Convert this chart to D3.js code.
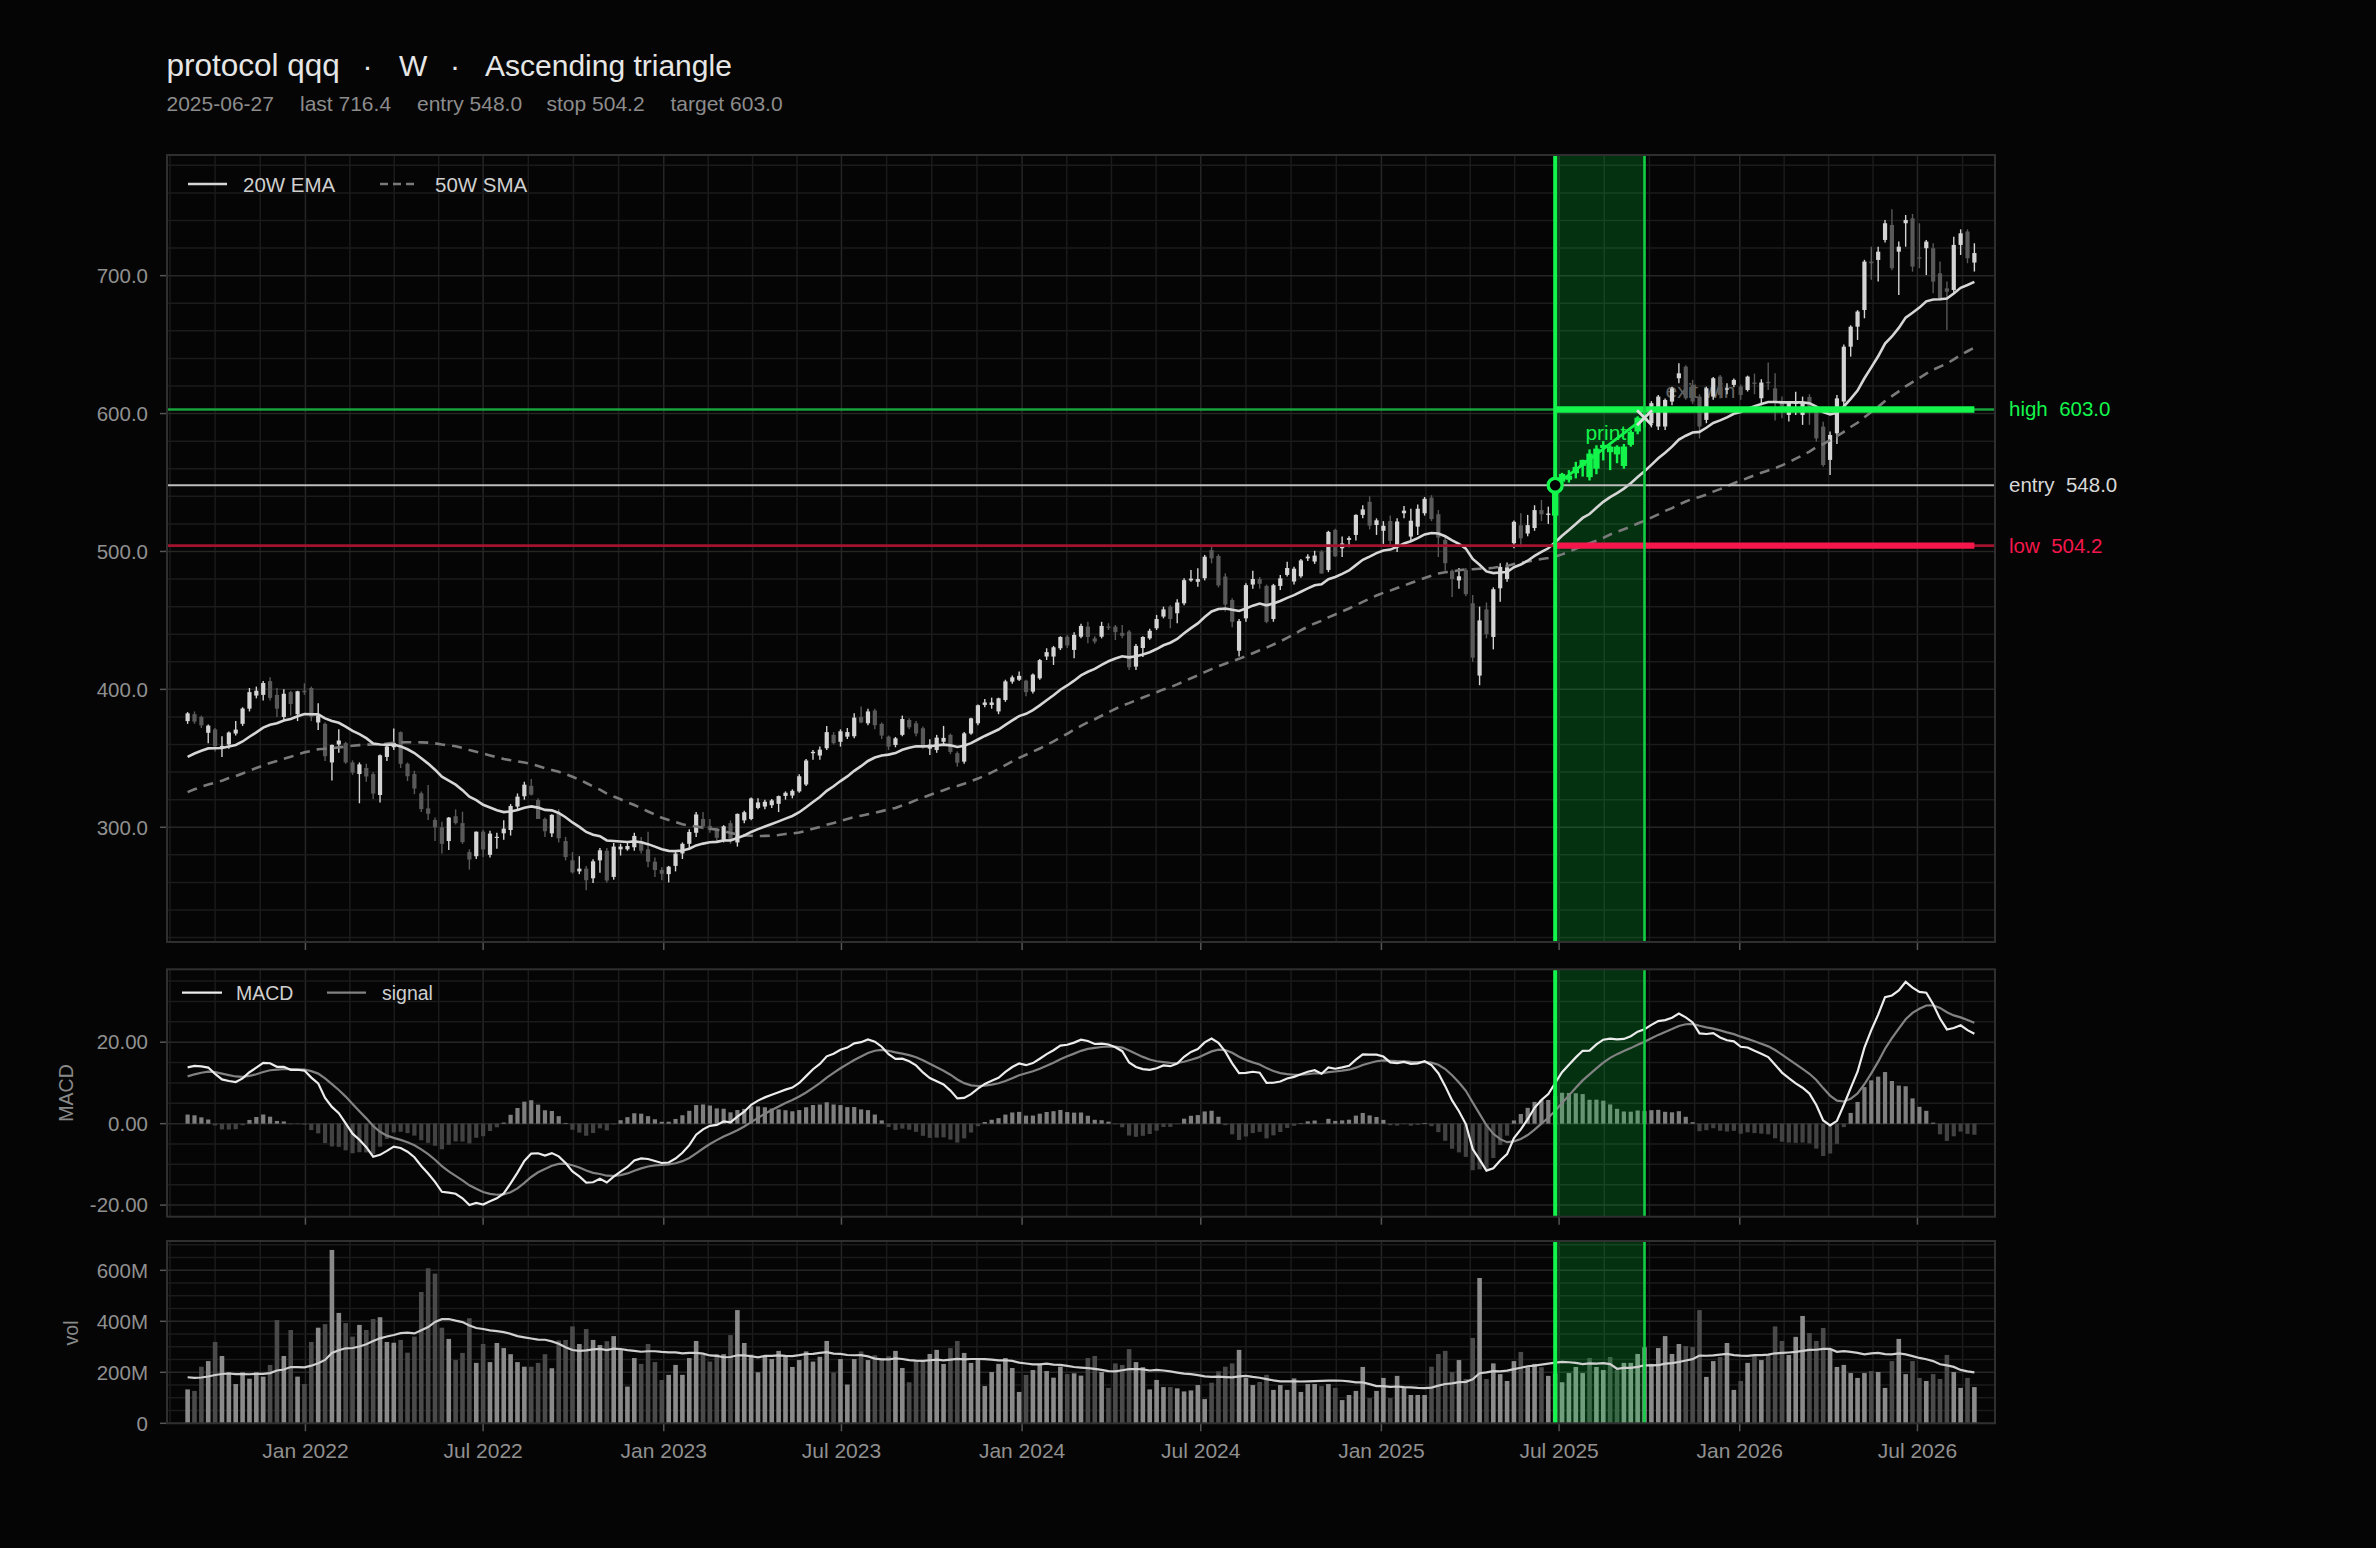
<!DOCTYPE html>
<html><head><meta charset="utf-8">
<script src="https://cdn.jsdelivr.net/npm/d3@7"></script>
<style>html,body{margin:0;padding:0;background:#050505}svg{display:block}</style>
</head><body>
<svg id="c" width="2376" height="1548"></svg>
<script>
// ---------------- DATA ----------------
const symbol = "protocol qqq", timeframe = "W", pattern = "Ascending triangle";
const firstWeek = "2021-09-03";          // week-ending date of the first bar
const entryDate = "2025-06-27", exitDate = "2025-09-26";
const entryPrice = 548.0, stopPrice = 504.2, targetPrice = 603.0, exitPrice = 597.0, lastPrice = 716.4;

const open = [377,382,380,368.5,371,357,360,368,375,386,
395.5,396,406,396,380,398,382,399,401,376,
375,347,360,361,347,338.6,343,338.6,323.4,351,
358,369,346,338.6,324.6,313.7,305.3,300,290,308,
303,282,279,296.8,280,293,295.6,298,315,322.5,
330,319.8,306,295.6,310,290,276,268,270,263,
276,283,264,284,284,285.5,290,284,275,269,
266,272,281,288,296,306,301,298,291,303,
289,305,306,314,315,316,317,322.7,323,326,
331,353.7,352,357.3,367,362,365.7,366,380,375.4,
384.6,375,365.7,359.7,367,377.8,375.4,371.8,357,356,
362,367,353.7,347.6,368,375.4,388.7,388.7,384,392.3,
405.6,407,406.3,398.4,408,423.8,423.8,429.8,438.2,428.6,
438.2,445.5,437,438.2,445.5,445.5,441,441.9,416.5,430,
437,444.3,452.8,460,455.2,462.4,479,478,480.6,501,
496.7,481.8,464.8,428,451.5,476,480,475,451,475,
483,478.2,482,495,492.7,499.9,486.6,515.6,502.3,508.4,
512,526.5,536,519.2,515,522,504,527.7,510.8,518,
527.7,539,527,508.4,486,479,486.6,462.4,410,458,
438,473.3,480,506,519,513,517,530,526.5,526,
550.6,552,556.7,562,571,560,575,576,576,562,
577.3,587,596,593,590.6,590.6,608.7,625.6,634,620.8,
612.3,595.4,612.3,626.8,617.5,620.8,619.6,617.1,622.5,611.1,
623,618.3,608.7,599,607,599,612,605,590.5,566.4,
585.7,608.7,648.5,663,675.1,710.2,711.4,725.9,736.8,717.4,
738,741.6,713.3,719.9,719.9,701.7,690.8,689.6,722.3,732,
709.5];
const high = [383.5,384,381,374.5,372,366,369.5,377,387,401,
402,406,408.7,401,400,399,399,404.4,402,390,
376,360,371,362,348.5,347,346,340,352.7,361,
371.7,369.5,347,341,326,330.6,307,304,307.5,313,
311.3,284,297,298,297.5,296,305,316.8,324.5,333,
335,321,307,309.5,313,293,282,279,272,276.8,
285,285,288.6,288,290,296,293,296.8,278,271,
272,282,289,298.5,311,311,306,299.5,301.5,305,
310,312,321.5,321,320,320.5,323,326,327.5,338.5,
349.5,356,358.5,373.5,369,371,372,382.7,387.5,386,
386,376,366.5,365.5,381,379,377,373,363.8,367,
373.5,368,355,369,379.5,389,393,394,394,407,
410,412.9,407,411.5,422,429.8,431.5,438.5,439.5,441.5,
447.5,449,438.5,449,448,446.7,446.7,443,432.9,438.5,
444,454,460,461,465.3,480.5,486.6,487.8,497.5,503.5,
498,484.2,466,451,477,486,481.5,476,476.5,483,
492.5,489,494.5,498,500.5,501,515,516.5,510.8,511,
527,533.6,540,524,522,526,524,533,531,534,
539.5,540.8,530,512,487,488,488,468.5,460,463,
474,491.5,492,522.5,527.7,526.5,533.5,537.4,532.5,549,
557,559,565,566.5,574,577,580,577,577,578,
588,598,601,609,613.5,611,619.5,636.5,635,624.4,
614,619.5,626.5,628,622,625.5,621,627.5,629,624.9,
637,629.2,612.3,608.7,615.9,612.3,614,605.5,594,587,
613.5,650,664,675,711.5,721,721,740.4,748.1,724.7,
744,744.7,738,725.9,723.5,710.2,695.7,728.3,733.6,733.6,
723.5];
const low = [375,375,372,361,355,351,357,366.5,373.5,384,
393.5,392,392,380,378,381,377,396,377,370.5,
348,334,354,346,338,317.4,333,320.5,318,348,
356,343,333.5,324,311,305.3,290,281,283.5,302,
288,269.3,277,278.5,278,284.5,291,294,312,320,
323,306,293,293,289,276,266.5,266,254.3,259.5,
267,260,262,279.5,283,283,281,271,264,261.5,
260,268,277,285,293,298.5,296,289.5,289,288,
286,303,305,313,313,314,311,320,321,325,
330,349,349,356,360,358.5,364,364.5,375.4,374,
371,364,356,358,366,371,366,357,352.4,354,
360,353,344,346,367,374,387,386,382,391,
404,406,395,397,407,421.3,417.7,428.5,430,422.5,
437,433.4,433,437,443,435.8,437,414,414,423.5,
436,443,451.5,444.3,447.9,461,478,474.5,479,491.4,
474,456.4,445,423.8,449.1,473,473,448,449,472,
481.8,476,481,493,491,484,485,496,496,503,
508,524,516,512,505.5,505,499.7,524,507,512,
526,522,496,486,467,473,467.5,420,403,437,
429,463.6,478,502.3,503,511,515,522,520,523.5,
549,550,553,554.3,551.5,556,566,559,564,560,
576,585,590,590,588,588,606,622,610,607,
582,593,610,611,614,619,610,616,614,606,
617,595,596.6,594.2,599,591.8,591.8,579.7,561.5,555.5,
578,606,641.3,653.4,669.1,697,695.7,724,704,686,
721,702.9,705.4,700.5,687.2,682,660.6,687.2,715,709,
703];
const close = [382.6,376.6,373.9,373.7,358.7,359,368.7,370.8,386.1,398,
399,404.6,393.8,386,396.8,389.4,398.6,397.9,380.2,381,
351.5,359.7,362.9,347,339.6,345.6,336.8,324.4,352.2,358.6,
361.2,346,337,328.1,313.2,309.8,300,288,307,303,
289.2,276.6,296.8,283.9,295.4,293.1,299,315.4,322.2,330.9,
323.6,306,297.1,309,292,278.4,267.3,270,261.6,275.3,
283.3,261.4,286,286,286.4,293.7,283,275,269,266.3,
271.4,280.9,288,296.6,309.3,300.6,298,292.4,300.7,290,
309.7,310.9,320.9,318,318.5,319.5,322.6,325,326.4,337,
348.4,354.7,356.3,369,361,369.6,369,379.5,376,384,
374,366.5,358.5,364.5,378.5,372.5,368,358.6,360,365,
364.8,354.6,346.8,368.1,379,388.5,390.5,390.5,393.5,405.8,
408.7,409.8,398,410.7,421.2,427,430.5,438,431.8,439.5,
446,438,434.6,446,445,441.5,438.8,416,431.5,438,
442.5,451,458,451,463,479.2,480.3,480,496.2,495,
475.4,461.5,449,449.5,475.6,480,476.5,449,475.5,480.5,
488,487.5,493.5,496.3,497,484,514.2,496.5,505.8,509.7,
526.5,530.5,518.7,522.6,518.6,507.7,521.7,529.6,522.3,531,
538.2,523.5,510,491.5,480,482,469,423,450,440,
472.6,488.8,488.5,521.5,509.5,519.1,530,527,527.5,548.1,
556.2,555,561.3,566.4,553.9,574.6,577.3,572,570.4,576.1,
586.7,597,597,607.5,612.3,609.9,618.3,629.2,611.1,608.7,
590.6,618.3,625.6,613.5,618.2,624.4,613.5,626.8,621.5,622.5,
622,608.7,605,608.5,608,608,602,582,562.7,584.5,
611,648.5,663,674,710.2,709,717.4,738,705.4,721,
740.4,706.6,712.4,724.7,695.7,683.6,688.4,722.3,730.7,712.6,
716.4];
// weekly volume, millions of shares
const volume = [133,127,222,244,319,264,200,154,200,175,
200,183,229,405,264,366,183,154,319,375,
389,680,433,393,340,386,366,409,416,319,
316,327,277,340,515,608,587,375,331,248,
276,412,237,311,240,315,295,271,240,222,
222,237,271,216,325,327,380,311,370,327,
307,322,342,290,144,256,233,311,240,170,
190,229,190,256,323,268,242,272,271,346,
444,315,269,200,263,252,284,261,221,248,
282,242,261,323,199,252,152,252,282,248,
267,255,263,284,217,161,244,244,272,288,
233,295,323,276,237,252,146,201,233,256,
217,123,190,209,229,205,179,222,193,196,
187,256,264,201,139,235,229,291,240,220,
133,170,142,142,137,125,129,150,95,159,
204,222,235,288,178,150,162,190,131,150,
131,176,123,154,154,146,154,139,91,111,
127,221,99,127,178,99,186,139,111,111,
111,222,272,284,201,248,174,335,570,174,
235,193,166,244,280,220,233,220,186,195,
161,197,221,197,256,221,209,260,209,237,
237,272,298,233,295,342,272,311,303,299,
444,182,244,260,315,131,166,237,264,248,
268,380,323,268,339,421,354,323,374,291,
221,229,197,178,197,205,201,139,244,331,
193,244,178,166,193,174,268,201,139,178,
142];
// weekly history before the first drawn bar (warm-up of the moving averages)
const priorCloses = [275,284,292,291,287,274,298,291,297,304,307,306,314,316,318,321,316,329,319,334,
338,334,320,309,324,318,319,333,342,334,331,333,327,319,319,327,330,336,338,348,354,356,352,362,359,362,364,361,371];
const priorVolumes = [176,192,168,201,187,159,210,181,195,172,188,165,199,183,177,190,171,186,180];

const xTickDates = ["2022-01-01","2022-07-01","2023-01-01","2023-07-01","2024-01-01","2024-07-01","2025-01-01","2025-07-01","2026-01-01","2026-07-01"];
const priceTicks = [300,400,500,600,700];
const macdTicks = [-20,0,20];
const volTicks = [0,200,400,600];

// ---------------- LAYOUT ----------------
const W = 2376, H = 1548, L = 167, R = 1995;
const PP = {top:155, bot:942}, PM = {top:969.3, bot:1216.7}, PV = {top:1241, bot:1423.3};
const FONT = "Liberation Sans, Arial, Helvetica, sans-serif";
const C = {
  bg:"#050505", grid:"#1b1b1b", gridMaj:"#262626", border:"#2f2f2f", tick:"#555",
  text:"#e6e6e6", sub:"#8c8c8c", axis:"#909090",
  up:"#d4d4d4", down:"#595959", vUp:"#8a8a8a", vDown:"#4a4a4a", hUp:"#7e7e7e", hDown:"#424242",
  green:"#14f54c", greenDim:"#17a23c", greenR:"#14cf45", red:"#f5174b", redDim:"#a3132f"
};

const svg = d3.select("#c");
svg.append("rect").attr("width",W).attr("height",H).attr("fill",C.bg);

const parse = d3.utcParse("%Y-%m-%d");
const t0 = parse(firstWeek);
const n = close.length;
const dates = d3.range(n).map(i => d3.utcDay.offset(t0, 7*i));
const iEntry = dates.findIndex(d => +d === +parse(entryDate));
const iExit = dates.findIndex(d => +d === +parse(exitDate));

const x = d3.scaleUtc()
  .domain([d3.utcDay.offset(dates[0],-21), d3.utcDay.offset(dates[n-1],21)])
  .range([L, R]);
const yP = d3.scaleLinear().domain([216.8, 787.5]).range([PP.bot, PP.top]);
const yM = d3.scaleLinear().domain([-22.85, 37.9]).range([PM.bot, PM.top]);
const yV = d3.scaleLinear().domain([0, 715]).range([PV.bot, PV.top]);

// ---------------- INDICATORS ----------------
function ema(arr, span){ const a = 2/(span+1); let e; return arr.map((v,i)=> (e = i===0 ? v : a*v + (1-a)*e)); }
function sma(arr, w){ return arr.map((v,i)=> i < w-1 ? null : d3.mean(arr.slice(i-w+1, i+1))); }
const allC = priorCloses.concat(close), off = priorCloses.length;
const ema20 = ema(allC,20).slice(off);
const sma50 = sma(allC,50).slice(off);
const e12 = ema(allC,12), e26 = ema(allC,26);
const macdAll = e12.map((v,i)=> v - e26[i]);
const sigAll = ema(macdAll, 9);
const macd = macdAll.slice(off), signal = sigAll.slice(off);
const hist = macd.map((v,i)=> v - signal[i]);
const allV = priorVolumes.concat(volume);
const volMA = sma(allV,20).slice(priorVolumes.length);

// ---------------- GRID / AXES ----------------
const halfYears = d3.utcMonth.every(6).range(parse("2021-07-01"), parse("2027-01-02"));
const vgrid = [];
for (let k=0;k<halfYears.length-1;k++){
  const a=+halfYears[k], b=+halfYears[k+1];
  for (let j=0;j<4;j++) vgrid.push({t:new Date(a+(b-a)*j/4), major:j===0});
}
const vg = vgrid.filter(g => x(g.t) > L+1 && x(g.t) < R-1);
const xt = xTickDates.map(parse);

function panel(P, y, minorVals, majorVals){
  const g = svg.append("g");
  g.selectAll(".vg").data(vg).join("line")
    .attr("x1",d=>x(d.t)).attr("x2",d=>x(d.t)).attr("y1",P.top).attr("y2",P.bot)
    .attr("stroke",d=>d.major?C.gridMaj:C.grid).attr("stroke-width",1.5);
  g.selectAll(".hg").data(minorVals).join("line")
    .attr("x1",L).attr("x2",R).attr("y1",d=>y(d)).attr("y2",d=>y(d))
    .attr("stroke",d=>majorVals.includes(d)?C.gridMaj:C.grid).attr("stroke-width",1.5);
  g.selectAll(".xt").data(xt).join("line")
    .attr("x1",d=>x(d)).attr("x2",d=>x(d)).attr("y1",P.bot).attr("y2",P.bot+8)
    .attr("stroke",C.tick).attr("stroke-width",1.5);
  g.selectAll(".yt").data(majorVals).join("line")
    .attr("x1",L-7).attr("x2",L).attr("y1",d=>y(d)).attr("y2",d=>y(d))
    .attr("stroke",C.tick).attr("stroke-width",1.5);
  return g;
}
function clip(id, P){
  svg.append("clipPath").attr("id",id).append("rect")
    .attr("x",L).attr("y",P.top).attr("width",R-L).attr("height",P.bot-P.top);
  return svg.append("g").attr("clip-path",`url(#${id})`);
}
function yLabels(P, y, vals, fmt){
  svg.append("g").selectAll("text").data(vals).join("text")
    .attr("x",L-19).attr("y",d=>y(d)+7.3).attr("text-anchor","end")
    .attr("font-family",FONT).attr("font-size",20.5).attr("fill",C.axis).text(fmt);
}
function shade(g, P){
  g.append("rect").attr("x",x(dates[iEntry])).attr("y",P.top)
    .attr("width",x(dates[iExit])-x(dates[iEntry])).attr("height",P.bot-P.top)
    .attr("fill","#00ff46").attr("fill-opacity",0.18);
}
function vlines(g, P){
  g.append("line").attr("x1",x(dates[iExit])).attr("x2",x(dates[iExit])).attr("y1",P.top).attr("y2",P.bot)
    .attr("stroke",C.greenR).attr("stroke-width",2.6);
  g.append("line").attr("x1",x(dates[iEntry])).attr("x2",x(dates[iEntry])).attr("y1",P.top).attr("y2",P.bot)
    .attr("stroke",C.green).attr("stroke-width",4);
}
function border(P){
  svg.append("rect").attr("x",L).attr("y",P.top).attr("width",R-L).attr("height",P.bot-P.top)
    .attr("fill","none").attr("stroke",C.border).attr("stroke-width",2);
}

const idx = d3.range(n);
const inTrade = i => i >= iEntry && i <= iExit;
const isUp = i => close[i] >= open[i];

// ---------------- PRICE PANEL ----------------
panel(PP, yP, d3.range(220, 788, 20), priceTicks);
yLabels(PP, yP, priceTicks, d => d.toFixed(1));
const gp = clip("cp", PP);
shade(gp, PP);
const ex = x(dates[iExit]), eyy = yP(exitPrice), nx = x(dates[iEntry]), ny = yP(entryPrice);
gp.append("text").attr("x",ex+21).attr("y",eyy-20).attr("font-family",FONT).attr("font-size",21)
  .attr("fill","#626262").text("exit win");
const cg = gp.append("g");
const order = idx.filter(i=>!inTrade(i)).concat(idx.filter(inTrade));
order.forEach(i => {
  const tr = inTrade(i);
  const col = tr ? C.green : (isUp(i) ? C.up : C.down);
  const bw = tr ? 6.4 : 4.2, ww = tr ? 2.4 : 1.4;
  const xi = x(dates[i]);
  cg.append("line").attr("x1",xi).attr("x2",xi)
    .attr("y1",yP(Math.max(high[i],open[i],close[i]))).attr("y2",yP(Math.min(low[i],open[i],close[i])))
    .attr("stroke",col).attr("stroke-width",ww);
  const yt = yP(Math.max(open[i],close[i])), yb = yP(Math.min(open[i],close[i]));
  cg.append("rect").attr("x",xi-bw/2).attr("y",yt).attr("width",bw).attr("height",Math.max(1.2,yb-yt)).attr("fill",col);
});
const lineP = arr => d3.line().defined((d,i)=>arr[i]!=null).x((d,i)=>x(dates[i])).y((d,i)=>yP(arr[i]))(idx);
gp.append("path").attr("d",lineP(sma50)).attr("fill","none").attr("stroke","#7a7a7a").attr("stroke-width",2.6).attr("stroke-dasharray","10 7");
gp.append("path").attr("d",lineP(ema20)).attr("fill","none").attr("stroke","#d6d6d6").attr("stroke-width",2.6);
// levels
gp.append("line").attr("x1",L).attr("x2",R).attr("y1",yP(entryPrice)).attr("y2",yP(entryPrice)).attr("stroke","#bdbdbd").attr("stroke-width",1.8);
gp.append("line").attr("x1",L).attr("x2",R).attr("y1",yP(targetPrice)).attr("y2",yP(targetPrice)).attr("stroke",C.greenDim).attr("stroke-width",2.6);
gp.append("line").attr("x1",L).attr("x2",R).attr("y1",yP(stopPrice)).attr("y2",yP(stopPrice)).attr("stroke",C.redDim).attr("stroke-width",2.8);
gp.append("line").attr("x1",nx).attr("x2",x(dates[n-1])).attr("y1",yP(targetPrice)).attr("y2",yP(targetPrice)).attr("stroke",C.green).attr("stroke-width",6.4);
gp.append("line").attr("x1",nx).attr("x2",x(dates[n-1])).attr("y1",yP(stopPrice)).attr("y2",yP(stopPrice)).attr("stroke",C.red).attr("stroke-width",6.4);
vlines(gp, PP);
gp.append("line").attr("x1",nx).attr("y1",ny).attr("x2",ex).attr("y2",eyy).attr("stroke",C.green).attr("stroke-width",2.8);
gp.append("text").attr("x",(nx+ex)/2+6).attr("y",(ny+eyy)/2-11).attr("text-anchor","middle")
  .attr("font-family",FONT).attr("font-size",21).attr("fill",C.green).text("print");
gp.append("circle").attr("cx",nx).attr("cy",ny).attr("r",7).attr("fill","#000").attr("stroke",C.green).attr("stroke-width",3.4);
const s = 7.5;
gp.append("path").attr("d",`M${ex-s},${eyy-s}L${ex+s},${eyy+s}M${ex-s},${eyy+s}L${ex+s},${eyy-s}`)
  .attr("stroke","#dcdcdc").attr("stroke-width",2.8).attr("fill","none");
border(PP);
// right labels
const rl = [{t:`high\u00a0\u00a0${targetPrice.toFixed(1)}`, v:targetPrice, c:C.green},
            {t:`entry\u00a0\u00a0${entryPrice.toFixed(1)}`, v:entryPrice, c:"#d8d8d8"},
            {t:`low\u00a0\u00a0${stopPrice.toFixed(1)}`, v:stopPrice, c:C.red}];
svg.append("g").selectAll("text").data(rl).join("text")
  .attr("x",R+14).attr("y",d=>yP(d.v)+7).attr("font-family",FONT).attr("font-size",20.5)
  .attr("fill",d=>d.c).text(d=>d.t);
// legend
const lg = svg.append("g").attr("font-family",FONT).attr("font-size",20.5).attr("fill","#cfcfcf");
lg.append("line").attr("x1",188).attr("x2",227).attr("y1",184).attr("y2",184).attr("stroke","#d6d6d6").attr("stroke-width",2.6);
lg.append("text").attr("x",243).attr("y",191.5).text("20W EMA");
lg.append("line").attr("x1",380).attr("x2",414).attr("y1",184).attr("y2",184).attr("stroke","#7a7a7a").attr("stroke-width",2.6).attr("stroke-dasharray","8 5");
lg.append("text").attr("x",435).attr("y",191.5).text("50W SMA");

// ---------------- MACD PANEL ----------------
panel(PM, yM, d3.range(-20, 38, 5), macdTicks);
yLabels(PM, yM, macdTicks, d => d.toFixed(2));
const gm = clip("cm", PM);
gm.selectAll("rect.h").data(idx).join("rect")
  .attr("x",i=>x(dates[i])-2.1).attr("width",4.2)
  .attr("y",i=>Math.min(yM(0),yM(hist[i]))).attr("height",i=>Math.abs(yM(hist[i])-yM(0)))
  .attr("fill",i=>hist[i]>=0?C.hUp:C.hDown);
shade(gm, PM);
const lineM = arr => d3.line().x((d,i)=>x(dates[i])).y((d,i)=>yM(arr[i]))(idx);
gm.append("path").attr("d",lineM(signal)).attr("fill","none").attr("stroke","#828282").attr("stroke-width",2.2);
gm.append("path").attr("d",lineM(macd)).attr("fill","none").attr("stroke","#ececec").attr("stroke-width",2.2);
vlines(gm, PM);
border(PM);
const ml = svg.append("g").attr("font-family",FONT).attr("font-size",19.5).attr("fill","#cfcfcf");
ml.append("line").attr("x1",182).attr("x2",222).attr("y1",992.7).attr("y2",992.7).attr("stroke","#ececec").attr("stroke-width",2.2);
ml.append("text").attr("x",236).attr("y",999.7).text("MACD");
ml.append("line").attr("x1",327).attr("x2",366).attr("y1",992.7).attr("y2",992.7).attr("stroke","#828282").attr("stroke-width",2.2);
ml.append("text").attr("x",382).attr("y",999.7).text("signal");
svg.append("text").attr("transform","translate(73,1093) rotate(-90)").attr("text-anchor","middle")
  .attr("font-family",FONT).attr("font-size",19.5).attr("fill","#8a8a8a").text("MACD");

// ---------------- VOLUME PANEL ----------------
panel(PV, yV, d3.range(0, 715, 50), volTicks);
yLabels(PV, yV, volTicks, d => d===0 ? "0" : d + "M");
const gv = clip("cv", PV);
gv.selectAll("rect.v").data(idx).join("rect")
  .attr("x",i=>x(dates[i])-2.3).attr("width",4.6)
  .attr("y",i=>yV(volume[i])).attr("height",i=>yV(0)-yV(volume[i]))
  .attr("fill",i=>isUp(i)?C.vUp:C.vDown);
shade(gv, PV);
gv.append("path").attr("d",d3.line().x((d,i)=>x(dates[i])).y((d,i)=>yV(volMA[i]))(idx))
  .attr("fill","none").attr("stroke","#cfcfcf").attr("stroke-width",2.2);
vlines(gv, PV);
border(PV);
svg.append("text").attr("transform","translate(78,1333) rotate(-90)").attr("text-anchor","middle")
  .attr("font-family",FONT).attr("font-size",19.5).attr("fill","#8a8a8a").text("vol");
// x labels
svg.append("g").selectAll("text").data(xt).join("text")
  .attr("x",d=>x(d)).attr("y",1457.5).attr("text-anchor","middle")
  .attr("font-family",FONT).attr("font-size",21).attr("fill",C.axis).text(d3.utcFormat("%b %Y"));

// ---------------- TITLES ----------------
const tg = svg.append("g").attr("font-family",FONT).attr("font-size",30).attr("fill",C.text);
tg.append("text").attr("x",166.5).attr("y",76).attr("font-size",31.5).text(symbol);
tg.append("text").attr("x",367.5).attr("y",76).attr("text-anchor","middle").text("\u00b7");
tg.append("text").attr("x",399).attr("y",76).text(timeframe);
tg.append("text").attr("x",455).attr("y",76).attr("text-anchor","middle").text("\u00b7");
tg.append("text").attr("x",485).attr("y",76).text(pattern);
const subs = [entryDate, `last ${lastPrice.toFixed(1)}`, `entry ${entryPrice.toFixed(1)}`, `stop ${stopPrice.toFixed(1)}`, `target ${targetPrice.toFixed(1)}`];
const subX = [166.5, 300, 417, 546.5, 670.5];
svg.append("g").selectAll("text").data(subs).join("text")
  .attr("x",(d,i)=>subX[i]).attr("y",110.5).attr("font-family",FONT).attr("font-size",21)
  .attr("fill",C.sub).text(d=>d);
</script>
</body></html>
